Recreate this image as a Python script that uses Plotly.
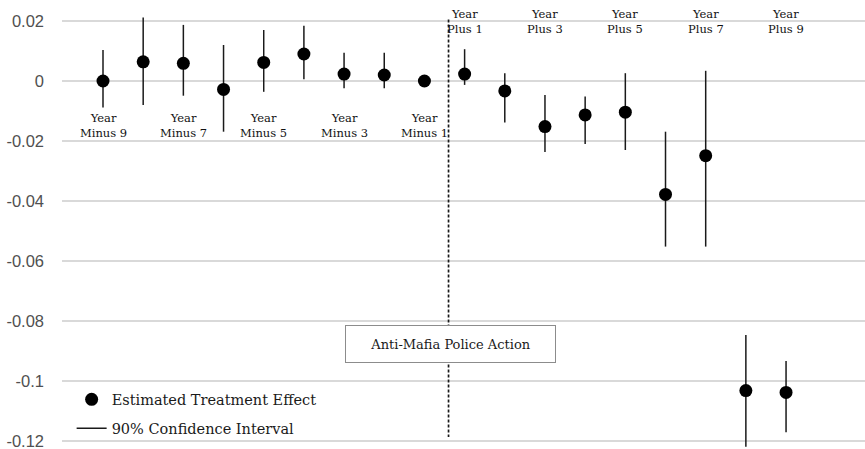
import plotly.graph_objects as go

# ---- data ----
periods = ["Minus 9", "Minus 8", "Minus 7", "Minus 6", "Minus 5", "Minus 4", "Minus 3", "Minus 2", "Minus 1",
           "Plus 1", "Plus 2", "Plus 3", "Plus 4", "Plus 5", "Plus 6", "Plus 7", "Plus 8", "Plus 9"]
estimate = [0.0, 0.0064, 0.0059, -0.0028, 0.0062, 0.0090, 0.0023, 0.0020, 0.0,
            0.0023, -0.0033, -0.0152, -0.0113, -0.0104, -0.0378, -0.0249, -0.1032, -0.1038]
ci_upper = [0.0103, 0.0212, 0.0187, 0.0120, 0.0170, 0.0184, 0.0094, 0.0094, 0.0,
            0.0106, 0.0026, -0.0047, -0.0052, 0.0026, -0.0169, 0.0034, -0.0847, -0.0933]
ci_lower = [-0.0088, -0.0080, -0.0049, -0.0169, -0.0036, 0.0006, -0.0024, -0.0024, 0.0,
            -0.0013, -0.0138, -0.0237, -0.0210, -0.0230, -0.0552, -0.0552, -0.1219, -0.1171]
labelled_periods = ["Minus 9", "Minus 7", "Minus 5", "Minus 3", "Minus 1",
                    "Plus 1", "Plus 3", "Plus 5", "Plus 7", "Plus 9"]
tick_vals = [0.02, 0.0, -0.02, -0.04, -0.06, -0.08, -0.10, -0.12]
tick_text = ["0.02", "0", "-0.02", "-0.04", "-0.06", "-0.08", "-0.1", "-0.12"]
event_label = "Anti-Mafia Police Action"
event_position = 8.6  # between Minus 1 (index 8) and Plus 1 (index 9)

x_idx = list(range(len(periods)))

# CI segments
ci_x, ci_y = [], []
for i, lo, hi in zip(x_idx, ci_lower, ci_upper):
    ci_x += [i, i, None]
    ci_y += [lo, hi, None]

serif = "DejaVu Serif"

fig = go.Figure()
fig.add_trace(go.Scatter(
    x=ci_x, y=ci_y, mode="lines", name="90% Confidence Interval",
    line=dict(color="#1a1a1a", width=1.5), legendrank=2, legendgroup="ci",
    hoverinfo="skip"))
fig.add_trace(go.Scatter(
    x=x_idx, y=estimate, mode="markers", name="Estimated Treatment Effect",
    marker=dict(color="black", size=13), legendrank=1, legendgroup="est"))

# period labels
for p in labelled_periods:
    i = periods.index(p)
    yv = -0.0147 if p.startswith("Minus") else 0.0198
    fig.add_annotation(x=i, y=yv, text="Year<br>" + p, showarrow=False,
                       font=dict(family=serif, size=11.5, color="#111"),
                       align="center", yanchor="middle", xanchor="center")

# event line
fig.add_shape(type="line", x0=event_position, x1=event_position, y0=0.0205, y1=-0.1187,
              xref="x", yref="y", line=dict(color="#1a1a1a", width=1.7, dash="3px,2px"))
fig.add_annotation(x=event_position + 0.04, y=-0.0877, text=event_label, showarrow=False,
                   font=dict(family=serif, size=13, color="#1a1a1a"),
                   bgcolor="white", bordercolor="#8c8c8c", borderwidth=1,
                   width=207, height=34, borderpad=1)

fig.update_layout(
    width=865, height=449,
    margin=dict(l=62, r=0, t=0, b=0),
    paper_bgcolor="white", plot_bgcolor="white",
    showlegend=True,
    legend=dict(x=0.012, y=0.146, xanchor="left", yanchor="top",
                font=dict(family=serif, size=14.5, color="#1a1a1a"),
                bgcolor="rgba(255,255,255,0)", tracegroupgap=7, itemwidth=30),
    xaxis=dict(range=[-1.0204, 18.965], showgrid=False, zeroline=False,
               showticklabels=False, ticks="", showline=False),
    yaxis=dict(range=[-0.12267, 0.027], tickvals=tick_vals, ticktext=tick_text,
               showgrid=True, gridcolor="#d9d9d9", gridwidth=1.5,
               zeroline=False, showline=False, ticks="",
               ticklabelstandoff=17, ticklabeloverflow="allow",
               tickfont=dict(family="Liberation Sans", size=16.5, color="#505050")),
)

fig.write_html("out.html", config={"displayModeBar": False},
               post_script="document.body.style.margin='0';")
